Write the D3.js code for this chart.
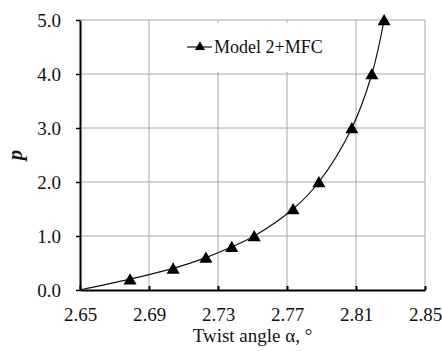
<!DOCTYPE html>
<html>
<head>
<meta charset="utf-8">
<script src="https://d3js.org/d3.v7.min.js"></script>
<style>
  body { margin: 0; background: #fff; }
  svg text { font-family: "Liberation Serif", "Times New Roman", Times, serif !important; fill: #111; }
</style>
</head>
<body>
<svg width="442" height="351"></svg>
<script>
// data
var alpha = [2.679, 2.704, 2.723, 2.738, 2.751, 2.7735, 2.7885, 2.8076, 2.8192, 2.8263];
var p = [0.2, 0.4, 0.6, 0.8, 1.0, 1.5, 2.0, 3.0, 4.0, 5.0];
var startAlpha = 2.65, startP = 0;   // curve starts at the origin, no marker there
var xTicks = [2.65, 2.69, 2.73, 2.77, 2.81, 2.85];
var yTicks = [0, 1, 2, 3, 4, 5];
var seriesName = "Model 2+MFC";

var serif = "'Liberation Serif', 'Times New Roman', Times, serif";

var svg = d3.select("svg");
var margin = {top: 20, right: 17, bottom: 61, left: 80},
    width = +svg.attr("width") - margin.left - margin.right,
    height = +svg.attr("height") - margin.top - margin.bottom;

var x = d3.scaleLinear().domain([2.65, 2.85]).range([0, width]);
var y = d3.scaleLinear().domain([0, 5]).range([height, 0]);

var g = svg.append("g")
    .attr("transform", "translate(" + margin.left + "," + margin.top + ")");

// gridlines
g.selectAll(".vgrid")
    .data(xTicks.slice(1))
    .enter().append("line")
    .attr("x1", function (d) { return x(d); })
    .attr("x2", function (d) { return x(d); })
    .attr("y1", 0).attr("y2", height)
    .attr("stroke", "#a8a8a8").attr("stroke-width", 1);
g.selectAll(".hgrid")
    .data(yTicks.slice(1))
    .enter().append("line")
    .attr("x1", 0).attr("x2", width)
    .attr("y1", function (d) { return y(d); })
    .attr("y2", function (d) { return y(d); })
    .attr("stroke", "#a8a8a8").attr("stroke-width", 1);

// x axis, ticks pointing inside
var xAxis = g.append("g")
    .attr("transform", "translate(0," + height + ")")
    .call(d3.axisBottom(x).tickValues(xTicks).tickSizeInner(-4).tickSizeOuter(0)
        .tickFormat(d3.format(".2f")).tickPadding(18));
xAxis.attr("font-family", null).attr("font-size", null);
xAxis.select(".domain").attr("stroke", "#000").attr("stroke-width", 2);
xAxis.selectAll(".tick line").attr("stroke", "#000").attr("stroke-width", 2);
xAxis.selectAll("text").style("font-size", "19px").style("font-family", serif);

// y axis, ticks outside
var yAxis = g.append("g")
    .call(d3.axisLeft(y).tickValues(yTicks).tickSizeInner(4).tickSizeOuter(0)
        .tickFormat(d3.format(".1f")).tickPadding(15));
yAxis.attr("font-family", null).attr("font-size", null);
yAxis.select(".domain").attr("stroke", "#000").attr("stroke-width", 2);
yAxis.selectAll(".tick line").attr("stroke", "#000").attr("stroke-width", 1.5);
yAxis.selectAll("text").style("font-size", "19px").style("font-family", serif);

// smooth line
var pts = [[startAlpha, startP]].concat(alpha.map(function (a, i) { return [a, p[i]]; }));
var line = d3.line()
    .x(function (d) { return x(d[0]); })
    .y(function (d) { return y(d[1]); })
    .curve(d3.curveCatmullRom.alpha(0.5));
g.append("path")
    .datum(pts)
    .attr("d", line)
    .attr("fill", "none")
    .attr("stroke", "#111")
    .attr("stroke-width", 1.2);

// markers
var tri = d3.symbol().type(d3.symbolTriangle).size(74);
g.selectAll(".pt")
    .data(alpha)
    .enter().append("path")
    .attr("d", tri)
    .attr("transform", function (d, i) {
        return "translate(" + x(d) + "," + (y(p[i]) + 1.5) + ")";
    })
    .attr("fill", "#000");

// legend
var leg = svg.append("g");
leg.append("rect")
    .attr("x", 180).attr("y", 23).attr("width", 160).attr("height", 49)
    .attr("fill", "#fff");
leg.append("line")
    .attr("x1", 187).attr("x2", 212).attr("y1", 47).attr("y2", 47)
    .attr("stroke", "#111").attr("stroke-width", 1.2);
leg.append("path")
    .attr("d", d3.symbol().type(d3.symbolTriangle).size(44))
    .attr("transform", "translate(200,47)")
    .attr("fill", "#000");
leg.append("text")
    .attr("x", 214).attr("y", 53)
    .style("font-size", "18px").style("font-family", serif)
    .text(seriesName);

// axis titles
svg.append("text")
    .attr("x", margin.left + width / 2).attr("y", 342)
    .attr("text-anchor", "middle")
    .style("font-size", "19px").style("font-family", serif)
    .text("Twist angle \u03b1, \u00b0");
svg.append("text")
    .attr("transform", "translate(22,155) rotate(-90)")
    .attr("text-anchor", "middle")
    .style("font-size", "21px").style("font-family", serif)
    .style("font-style", "italic").style("font-weight", "bold")
    .text("p");
</script>
</body>
</html>
